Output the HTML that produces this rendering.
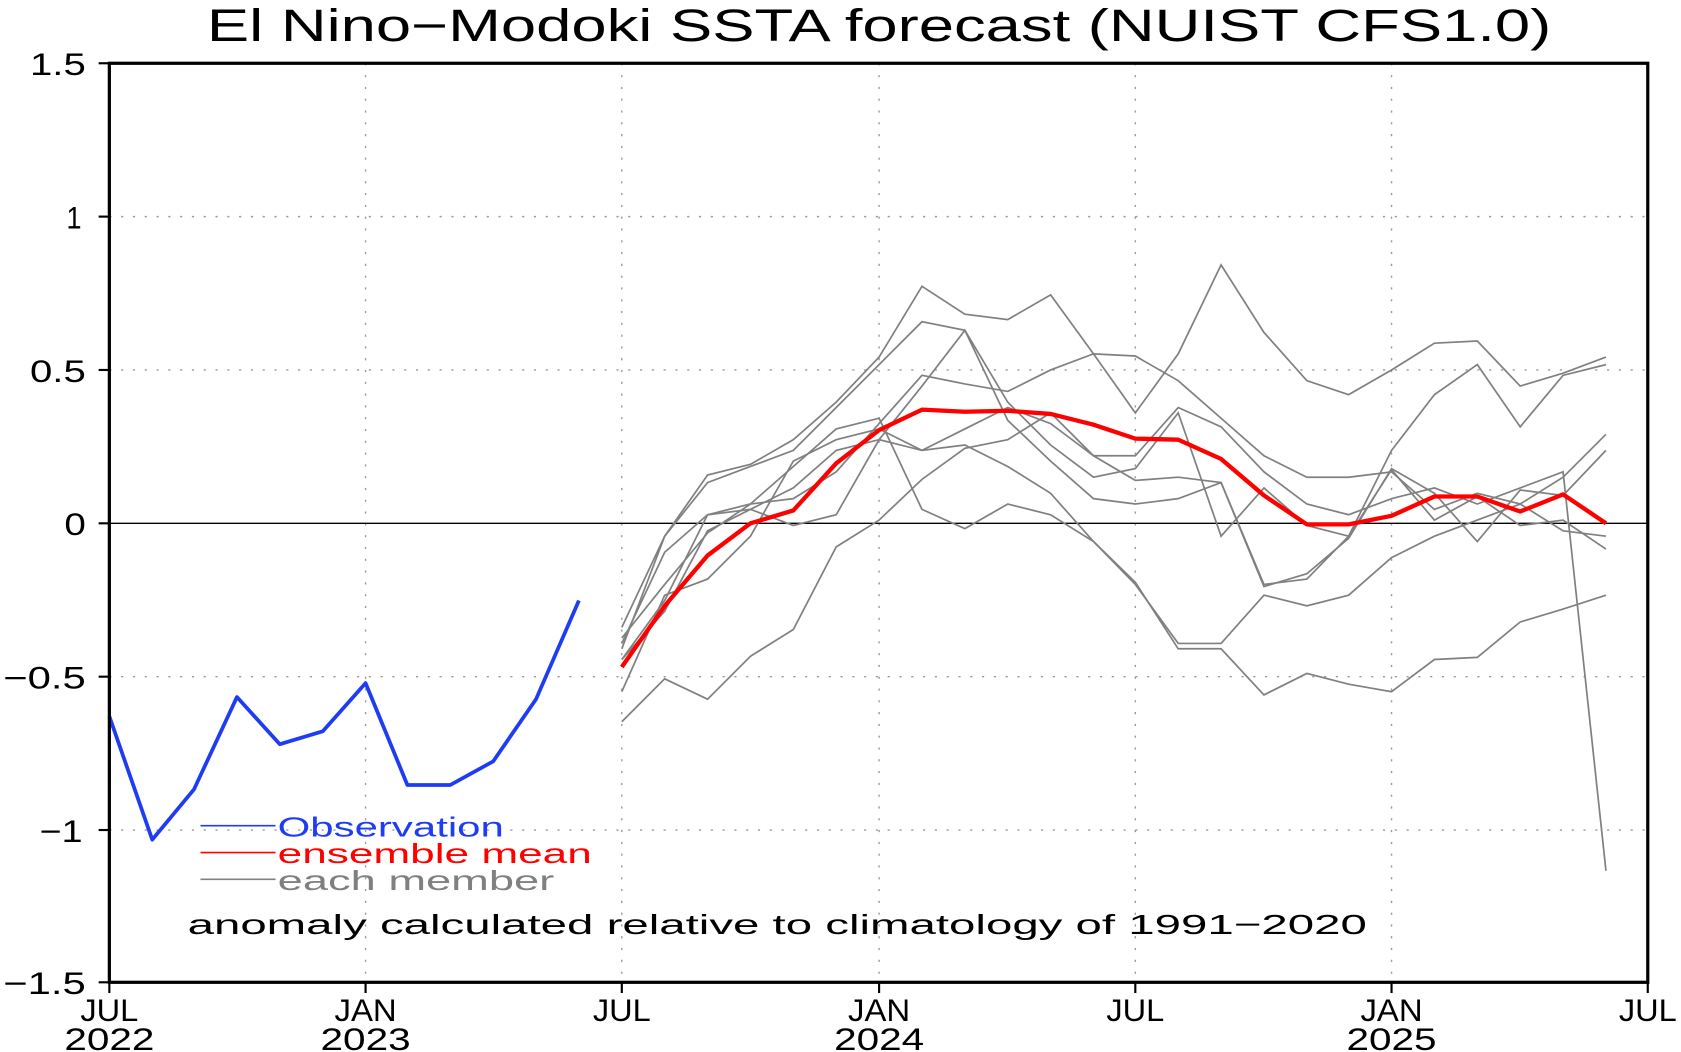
<!DOCTYPE html>
<html><head><meta charset="utf-8"><style>html,body{margin:0;padding:0;background:#fff;overflow:hidden}svg{display:block}</style></head><body>
<svg width="1681" height="1052" viewBox="0 0 1568 981" preserveAspectRatio="none" xmlns="http://www.w3.org/2000/svg" font-family="Liberation Sans, sans-serif">
<rect width="1568" height="981" fill="#fff"/>
<text x="193" y="38" font-size="42" textLength="1254" lengthAdjust="spacingAndGlyphs" fill="#000">El Nino−Modoki SSTA forecast (NUIST CFS1.0)</text>
<g stroke="#999" stroke-width="1.3" stroke-dasharray="2,9" fill="none">
<line x1="102" y1="202" x2="1537" y2="202"/><line x1="102" y1="345" x2="1537" y2="345"/><line x1="102" y1="631" x2="1537" y2="631"/><line x1="102" y1="774" x2="1537" y2="774"/>
<line x1="341" y1="59" x2="341" y2="916"/><line x1="580" y1="59" x2="580" y2="916"/><line x1="820" y1="59" x2="820" y2="916"/><line x1="1059" y1="59" x2="1059" y2="916"/><line x1="1298" y1="59" x2="1298" y2="916"/>
</g>
<line x1="102" y1="488" x2="1537" y2="488" stroke="#000" stroke-width="1.3"/>
<g stroke="#808080" stroke-width="1.6" fill="none">
<polyline points="580,585 620,500 660,443 700,433 740,410 780,375 820,333 860,267 900,293 940,298 980,275 1020,330 1059,385 1099,330 1139,247 1179,310 1219,355 1258,368 1298,345 1338,320 1378,318 1418,360 1458,348 1498,333"/>
<polyline points="580,605 620,500 660,450 700,435 740,420 780,380 820,340 860,300 900,308 940,392 980,430 1020,465 1059,470 1099,465 1139,450 1179,545 1219,540 1258,500 1298,420 1338,368 1378,340 1418,398 1458,350 1498,340"/>
<polyline points="580,673 620,633 660,652 700,612 740,587 780,510 820,485 860,447 900,418 940,410 980,385 1020,425 1059,448 1099,445 1139,450 1179,547 1219,535 1258,502 1298,437 1338,460 1378,505 1418,457 1458,462 1498,420"/>
<polyline points="580,645 620,555 660,540 700,500 740,430 780,410 820,400 860,420 900,415 940,435 980,460 1020,505 1059,543 1099,605 1139,605 1179,648 1219,628 1258,638 1298,645 1338,615 1378,613 1418,580 1458,568 1498,555"/>
<polyline points="580,615 620,570 660,495 700,475 740,455 780,420 820,410 860,360 900,308 940,375 980,415 1020,445 1059,437 1099,385 1139,500 1179,455 1219,490 1258,500 1298,438 1338,485 1378,463 1418,490 1458,485 1498,512"/>
<polyline points="580,600 620,515 660,480 700,470 740,435 780,400 820,390 860,475 900,493 940,470 980,480 1020,505 1059,545 1099,600 1139,600 1179,555 1219,565 1258,555 1298,520 1338,500 1378,485 1418,470 1458,495 1498,500"/>
<polyline points="580,595 620,545 660,497 700,470 740,465 780,440 820,395 860,350 900,358 940,365 980,345 1020,330 1059,332 1099,355 1139,390 1179,425 1219,445 1258,445 1298,440 1338,475 1378,460 1418,470 1458,445 1498,405"/>
<polyline points="580,615 620,560 660,480 700,475 740,490 780,480 820,410 860,420 900,400 940,380 980,395 1020,425 1059,425 1099,380 1139,398 1179,440 1219,470 1258,480 1298,465 1338,455 1378,470 1418,455 1458,440 1498,812"/>
</g>
<polyline fill="none" stroke="#f00" stroke-width="4" stroke-linejoin="round" points="580,622 620,565 660,518 700,488 740,476 780,432 820,401 860,382 900,384 940,383 980,386 1020,396 1059,409 1099,410 1139,428 1179,462 1219,489 1258,489 1298,481 1338,463 1378,463 1418,477 1458,461 1498,488"/>
<polyline fill="none" stroke="#1f3cf5" stroke-width="3.5" stroke-linejoin="round" points="102,668 142,783 181,736 221,650 261,694 301,682 341,637 380,732 420,732 460,710 500,652 540,560"/>
<rect x="102" y="59" width="1435" height="857" fill="none" stroke="#000" stroke-width="3"/>
<g stroke="#000" stroke-width="2">
<line x1="92" y1="59" x2="102" y2="59"/><line x1="92" y1="202" x2="102" y2="202"/><line x1="92" y1="345" x2="102" y2="345"/><line x1="92" y1="488" x2="102" y2="488"/><line x1="92" y1="631" x2="102" y2="631"/><line x1="92" y1="774" x2="102" y2="774"/><line x1="92" y1="916" x2="102" y2="916"/>
<line x1="102" y1="916" x2="102" y2="926"/><line x1="341" y1="916" x2="341" y2="926"/><line x1="580" y1="916" x2="580" y2="926"/><line x1="820" y1="916" x2="820" y2="926"/><line x1="1059" y1="916" x2="1059" y2="926"/><line x1="1298" y1="916" x2="1298" y2="926"/><line x1="1537" y1="916" x2="1537" y2="926"/>
</g>
<g font-size="29" fill="#000" lengthAdjust="spacingAndGlyphs">
<text x="28" y="70" textLength="52" lengthAdjust="spacingAndGlyphs">1.5</text>
<text x="62" y="213" textLength="14" lengthAdjust="spacingAndGlyphs">1</text>
<text x="28" y="356" textLength="52" lengthAdjust="spacingAndGlyphs">0.5</text>
<text x="60" y="499" textLength="20" lengthAdjust="spacingAndGlyphs">0</text>
<text x="3" y="642" textLength="77" lengthAdjust="spacingAndGlyphs">−0.5</text>
<text x="37" y="785" textLength="40" lengthAdjust="spacingAndGlyphs">−1</text>
<text x="3" y="927" textLength="77" lengthAdjust="spacingAndGlyphs">−1.5</text>
</g>
<g font-size="29" fill="#000">
<text x="75" y="952" textLength="54" lengthAdjust="spacingAndGlyphs">JUL</text><text x="60" y="979" textLength="84" lengthAdjust="spacingAndGlyphs">2022</text>
<text x="312" y="952" textLength="58" lengthAdjust="spacingAndGlyphs">JAN</text><text x="299" y="979" textLength="84" lengthAdjust="spacingAndGlyphs">2023</text>
<text x="553" y="952" textLength="54" lengthAdjust="spacingAndGlyphs">JUL</text>
<text x="791" y="952" textLength="58" lengthAdjust="spacingAndGlyphs">JAN</text><text x="778" y="979" textLength="84" lengthAdjust="spacingAndGlyphs">2024</text>
<text x="1032" y="952" textLength="54" lengthAdjust="spacingAndGlyphs">JUL</text>
<text x="1269" y="952" textLength="58" lengthAdjust="spacingAndGlyphs">JAN</text><text x="1256" y="979" textLength="84" lengthAdjust="spacingAndGlyphs">2025</text>
<text x="1510" y="952" textLength="54" lengthAdjust="spacingAndGlyphs">JUL</text>
</g>
<line x1="187" y1="770" x2="257" y2="770" stroke="#1f3cf5" stroke-width="1.5"/>
<line x1="187" y1="795" x2="257" y2="795" stroke="#f00" stroke-width="1.5"/>
<line x1="187" y1="820" x2="257" y2="820" stroke="#808080" stroke-width="1.5"/>
<g font-size="26">
<text x="259" y="780" fill="#1f3cf5" textLength="211" lengthAdjust="spacingAndGlyphs">Observation</text>
<text x="259" y="805" fill="#f00" textLength="293" lengthAdjust="spacingAndGlyphs">ensemble mean</text>
<text x="259" y="830" fill="#808080" textLength="258" lengthAdjust="spacingAndGlyphs">each member</text>
<text x="175" y="871" fill="#000" textLength="1100" lengthAdjust="spacingAndGlyphs">anomaly calculated relative to climatology of 1991−2020</text>
</g>
</svg>
</body></html>
